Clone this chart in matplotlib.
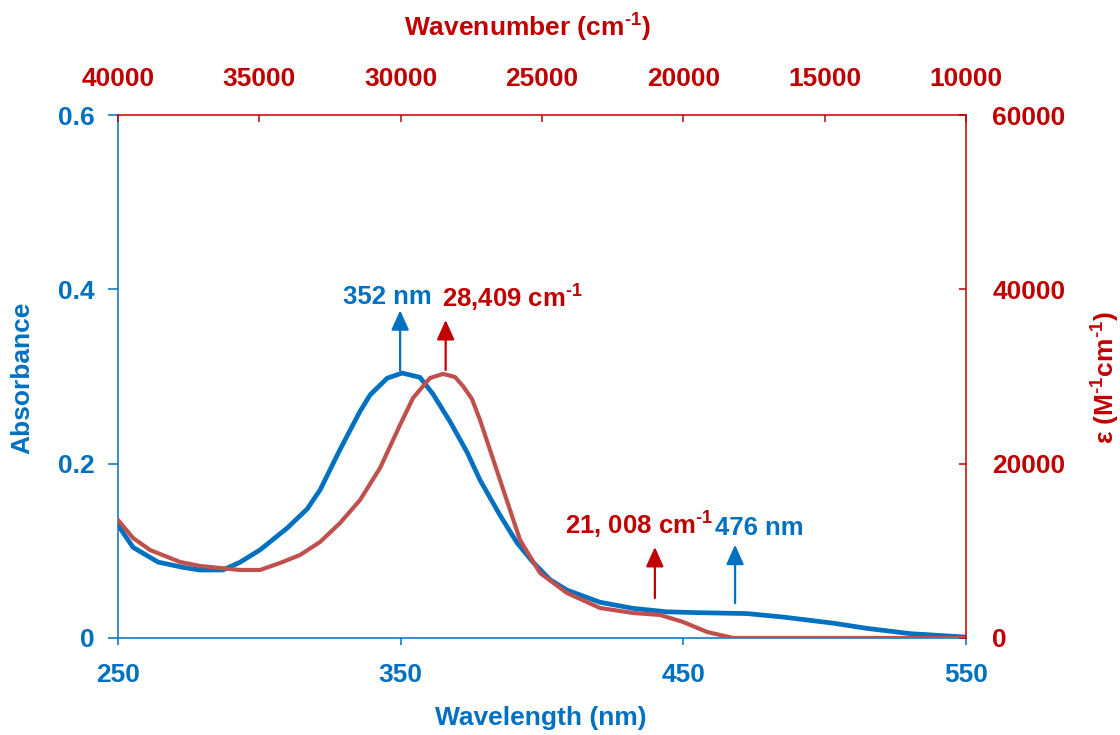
import matplotlib
matplotlib.use("Agg")
import matplotlib.pyplot as plt

plt.rcParams['font.family'] = ['Liberation Sans', 'DejaVu Sans']
plt.rcParams['font.weight'] = 'bold'
plt.rcParams['mathtext.fontset'] = 'custom'
plt.rcParams['mathtext.bf'] = 'Liberation Sans:bold'
plt.rcParams['mathtext.rm'] = 'Liberation Sans:bold'
plt.rcParams['mathtext.default'] = 'bf'

BLUE = '#0070C0'
RED_AX = '#C00000'
RED_LN = '#C0504D'
SUP = '$^{\u2010 1}$'.replace(' ', '')  # small hyphen superscript, like the original

# absorbance vs wavelength (nm)
wavelength = [250.0, 250.7, 255.3, 264.2, 273.0, 279.0, 287.1, 293.2, 300.2,
              309.8, 316.9, 321.5, 328.5, 335.6, 339.2, 345.2, 350.5, 356.8,
              361.4, 367.5, 373.5, 378.1, 385.1, 391.2, 396.8, 402.8, 408.8,
              420.5, 432.2, 444.2, 455.9, 472.5, 485.3, 503.0, 515.0, 530.2, 550.0]
absorbance = [0.133, 0.126, 0.104, 0.087, 0.081, 0.078, 0.078, 0.087, 0.101,
              0.126, 0.148, 0.170, 0.216, 0.260, 0.279, 0.298, 0.304, 0.299,
              0.280, 0.248, 0.213, 0.181, 0.141, 0.109, 0.087, 0.067, 0.055,
              0.041, 0.034, 0.030, 0.029, 0.028, 0.024, 0.017, 0.011, 0.005, 0.001]

# molar absorptivity vs wavenumber (cm-1)
wavenumber = [40000, 39469, 38868, 37807, 37099, 36392, 35684, 34976, 34269,
              33561, 32854, 32146, 31439, 30731, 30024, 29564, 28962, 28502,
              28078, 27795, 27476, 27193, 26840, 26486, 26132, 25778, 25071,
              24116, 22948, 21781, 20825, 20012, 19163, 18243, 10000]
epsilon = [13537, 11472, 10095, 8719, 8260, 8030, 7801, 7801, 8604,
           9522, 11013, 13193, 15831, 19500, 24440, 27533, 29828, 30300,
           29940, 28900, 27400, 25000, 21570, 18126, 14684, 11242, 7460,
           5160, 3440, 2870, 2640, 1840, 690, 0, 0]

wl_ticks = [250, 350, 450, 550]
abs_ticks = [0, 0.2, 0.4, 0.6]
abs_labels = ['0', '0.2', '0.4', '0.6']
wn_ticks = [40000, 35000, 30000, 25000, 20000, 15000, 10000]
eps_ticks = [0, 20000, 40000, 60000]

fig = plt.figure(figsize=(11.2, 7.35), dpi=100)
rect = [0.1054, 0.132, 0.7571, 0.7115]
ax = fig.add_axes(rect)
ax2 = fig.add_axes(rect)
ax2.patch.set_visible(False)

ax.plot(wavelength, absorbance, color=BLUE, lw=3.4, solid_joinstyle='round')
ax.set_xlim(250, 550)
ax.set_ylim(0, 0.6)
ax.set_xticks(wl_ticks)
ax.set_yticks(abs_ticks)
ax.set_yticklabels(abs_labels)
for s in ['top', 'right']:
    ax.spines[s].set_visible(False)
for s in ['left', 'bottom']:
    ax.spines[s].set_color(BLUE)
    ax.spines[s].set_linewidth(1.1)
ax.tick_params(axis='x', direction='out', length=5, width=1.1, colors=BLUE,
               labelsize=19, pad=13)
ax.tick_params(axis='y', direction='out', length=7, width=1.1, colors=BLUE,
               labelsize=19, pad=10)

ax2.plot(wavenumber, epsilon, color=RED_LN, lw=3.0, solid_joinstyle='round')
ax2.set_xlim(40000, 10000)
ax2.set_ylim(0, 60000)
ax2.xaxis.tick_top()
ax2.yaxis.tick_right()
ax2.set_xticks(wn_ticks)
ax2.set_yticks(eps_ticks)
for s in ['left', 'bottom']:
    ax2.spines[s].set_visible(False)
for s in ['top', 'right']:
    ax2.spines[s].set_color(RED_AX)
    ax2.spines[s].set_linewidth(1.1)
ax2.tick_params(axis='x', direction='in', length=5, width=1.1, colors=RED_AX,
                labelsize=19, pad=17)
ax2.tick_params(axis='y', direction='in', length=5, width=1.1, colors=RED_AX,
                labelsize=19, pad=19)

# axis titles
fig.text(0.0196, 0.4857, 'Absorbance', rotation=90, ha='center', va='center',
         color=BLUE, fontsize=19)
fig.text(0.483, 0.0231, 'Wavelength (nm)', ha='center', va='center',
         color=BLUE, fontsize=19)
fig.text(0.471, 0.962, 'Wavenumber (cm' + SUP + ')', ha='center', va='center',
         color=RED_AX, fontsize=19)
fig.text(0.9875, 0.487, 'ε (M' + SUP + 'cm' + SUP + ')', rotation=90,
         ha='center', va='center', color=RED_AX, fontsize=19)

# peak arrows and labels
arr = dict(arrowstyle='-|>,head_length=0.6,head_width=0.27', lw=1.6,
           shrinkA=0, shrinkB=0, mutation_scale=20)
ax.annotate('', xy=(349.8, 0.376), xytext=(349.8, 0.307),
            arrowprops=dict(arr, color=BLUE))
ax.annotate('', xy=(468.3, 0.107), xytext=(468.3, 0.040),
            arrowprops=dict(arr, color=BLUE))
ax2.annotate('', xy=(28409, 36482), xytext=(28409, 30746),
             arrowprops=dict(arr, color=RED_AX))
ax2.annotate('', xy=(21008, 10440), xytext=(21008, 4589),
             arrowprops=dict(arr, color=RED_AX))

ax.text(361.1, 0.391, '352 nm', ha='right', va='center', color=BLUE,
        fontsize=18.5)
ax.text(461.2, 0.118, '476 nm', ha='left', va='baseline', color=BLUE,
        fontsize=18.5)
ax2.text(28538, 37858, '28,409 cm' + SUP, ha='left', va='baseline',
         color=RED_AX, fontsize=18.5)
ax2.text(24186, 11816, '21, 008 cm' + SUP, ha='left', va='baseline',
         color=RED_AX, fontsize=18.5)

fig.savefig('out.png', dpi=100)
